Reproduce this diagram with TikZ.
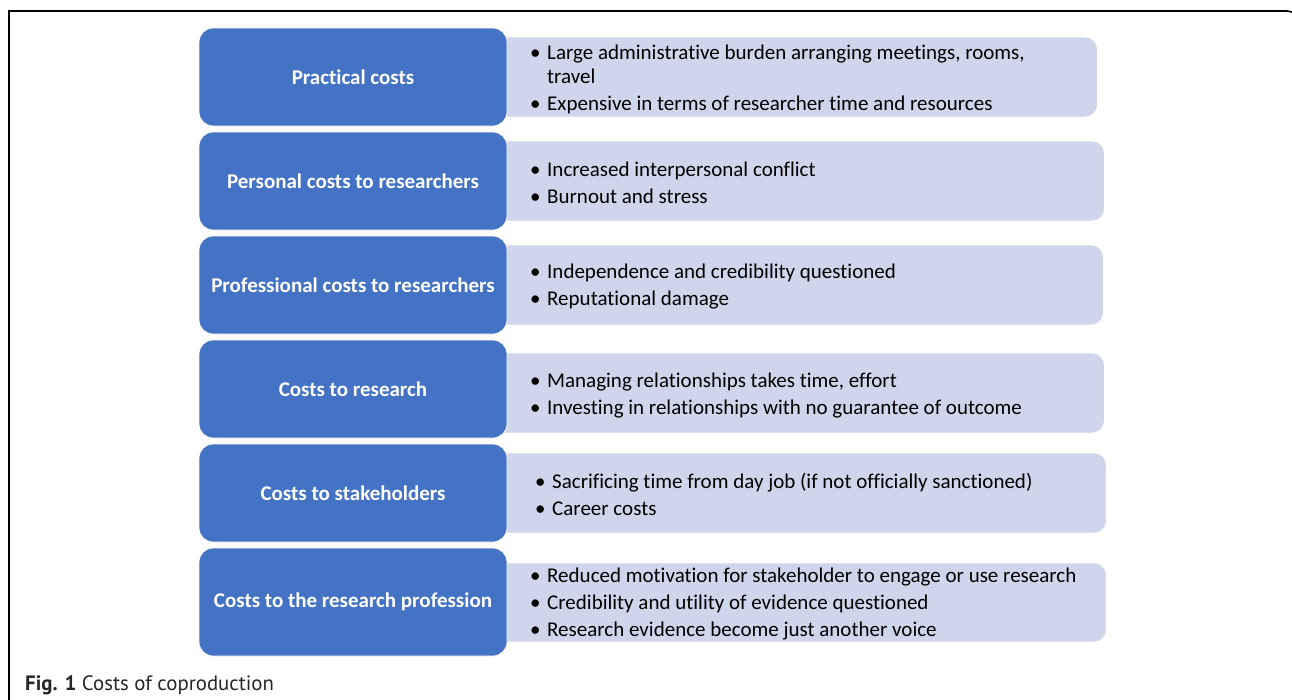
\documentclass[tikz,border=0pt]{standalone}
\usepackage{fontspec}
\setmainfont{Carlito}[RawFeature={-liga}]
\newfontfamily\capfont{PT Sans}
\definecolor{blueb}{HTML}{4472C4}
\definecolor{lightb}{HTML}{CFD5EA}
\newcommand\bl{\makebox[17pt][l]{\textbullet}}
\newcommand\hg{\hspace*{17pt}}
\begin{document}
\begin{tikzpicture}[x=1pt,y=-1pt,
  bluebox/.style={fill=blueb, draw=white, line width=0.8pt, rounded corners=14pt,
    minimum width=308pt, minimum height=98pt, inner sep=0pt, text=white,
    font=\fontsize{21}{24}\selectfont\bfseries},
  lightbox/.style={fill=lightb, draw=white, line width=0.8pt, rounded corners=12pt,
    minimum height=80pt, inner sep=0pt, anchor=west},
  listtext/.style={anchor=west, inner sep=0pt, align=left, text=black,
    font=\fontsize{21}{24}\selectfont},
  framel/.style={draw=black, line width=1.6pt}
]
\clip (0,0) rectangle (1292,699);
\fill[white] (0,0) rectangle (1292,699);
\draw[framel] (9,720) -- (9,11) [rounded corners=12pt] -- (1299,11) -- (1299,720);

% light boxes
\node[lightbox, minimum width=607pt] (l1) at (490,77) {};
\node[lightbox, minimum width=614pt] (l2) at (490,181) {};
\node[lightbox, minimum width=613pt] (l3) at (490,285) {};
\node[lightbox, minimum width=614pt] (l4) at (490,393) {};
\node[lightbox, minimum width=616pt] (l5) at (490,493) {};
\node[lightbox, minimum width=616pt, minimum height=79pt] (l6) at (490,602.5) {};

% blue boxes
\node[bluebox] (b1) at (353,77) {Practical costs};
\node[bluebox] (b2) at (353,181) {Personal costs to researchers};
\node[bluebox] (b3) at (353,285) {Professional costs to researchers};
\node[bluebox] (b4) at (353,389) {Costs to research};
\node[bluebox] (b5) at (353,493) {Costs to stakeholders};
\node[bluebox, minimum height=108pt] (b6) at (353,602) {Costs to the research profession};

% lists
\node[listtext] (t1) at (530,79) {\bl Large administrative burden arranging meetings, rooms,\\ \hg travel\\[3pt] \bl Expensive in terms of researcher time and resources};
\node[listtext] (t2) at (530,182.5) {\bl Increased interpersonal conflict\\[3pt] \bl Burnout and stress};
\node[listtext] (t3) at (530,287) {\bl Independence and credibility questioned\\[3pt] \bl Reputational damage};
\node[listtext] (t4) at (530,396) {\bl Managing relationships takes time, effort\\[3pt] \bl Investing in relationships with no guarantee of outcome};
\node[listtext] (t5) at (535,494.5) {\bl Sacrificing time from day job (if not officially sanctioned)\\[3pt] \bl Career costs};
\node[listtext] (t6) at (530,604) {\bl Reduced motivation for stakeholder to engage or use research\\[3pt] \bl Credibility and utility of evidence questioned\\[3pt] \bl Research evidence become just another voice};

% caption
\node[anchor=base west, inner sep=0pt, font=\capfont\fontsize{20.8}{24}\selectfont, text=black!85] (cap) at (25,690) {\textbf{Fig. 1} Costs of coproduction};
\end{tikzpicture}
\end{document}
